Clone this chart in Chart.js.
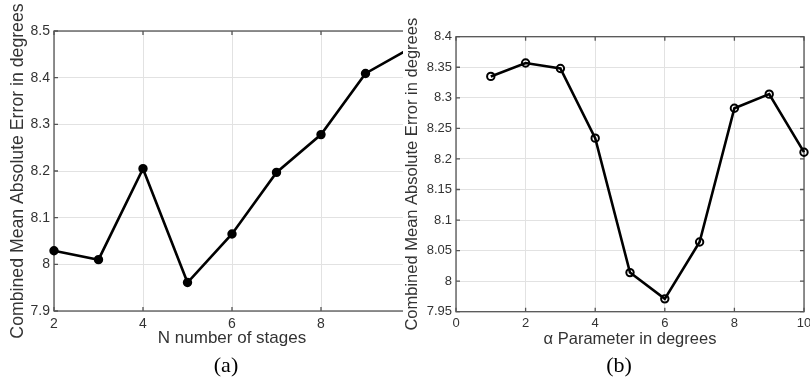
<!DOCTYPE html>
<html><head><meta charset="utf-8">
<script src="https://cdn.jsdelivr.net/npm/chart.js@4"></script>
<style>
html,body{margin:0;padding:0;background:#fff;overflow:hidden;width:810px;height:377px;}
#wa{position:absolute;left:0;top:0;width:430px;height:377px;}
#wb{position:absolute;left:403px;top:0;width:420px;height:377px;background:#fff;}
canvas{display:block;}
</style></head><body>
<div id="wa"><canvas id="ca" width="430" height="377"></canvas></div>
<div id="wb"><canvas id="cb" width="420" height="377"></canvas></div>
<script>
// ---- data (a) ----
const stagesN = [2, 3, 4, 5, 6, 7, 8, 9, 10];
const maeStages = [8.029, 8.010, 8.205, 7.961, 8.065, 8.197, 8.278, 8.409, 8.463];
const ticksAx = [2, 4, 6, 8, 10];
const ticksAy = [7.9, 8.0, 8.1, 8.2, 8.3, 8.4, 8.5];
// ---- data (b) ----
const alphaDeg = [1, 2, 3, 4, 5, 6, 7, 8, 9, 10];
const maeAlpha = [8.335, 8.357, 8.348, 8.234, 8.014, 7.971, 8.064, 8.283, 8.306, 8.211];
const ticksBx = [0, 2, 4, 6, 8, 10];
const ticksBy = [7.95, 8.0, 8.05, 8.1, 8.15, 8.2, 8.25, 8.3, 8.35, 8.4];
// ---- text ----
const titleAx = 'N number of stages';
const titleBx = '\u03B1 Parameter in degrees';
const titleY = 'Combined Mean Absolute Error in degrees';
const capA = '(a)';
const capB = '(b)';

const SANS = "'Liberation Sans', Arial, sans-serif";
const SERIF = "'Liberation Serif', 'Times New Roman', serif";
const TXT = '#333333';
const AXC = '#555555';
const GRID = '#e2e2e2';

const fmt = v => String(Math.round(v * 100) / 100);

const frame = {
  id: 'frame',
  beforeDatasetsDraw(chart) {
    const {ctx, chartArea: {left, right, top, bottom}, scales: {x, y}} = chart;
    ctx.save();
    ctx.strokeStyle = AXC;
    ctx.lineWidth = 1.3;
    ctx.strokeRect(left, top, right - left, bottom - top);
    const L = 4;
    ctx.beginPath();
    x.ticks.forEach(t => {
      const px = x.getPixelForValue(t.value);
      ctx.moveTo(px, bottom); ctx.lineTo(px, bottom - L);
      ctx.moveTo(px, top); ctx.lineTo(px, top + L);
    });
    y.ticks.forEach(t => {
      const py = y.getPixelForValue(t.value);
      ctx.moveTo(left, py); ctx.lineTo(left + L, py);
      ctx.moveTo(right, py); ctx.lineTo(right - L, py);
    });
    ctx.stroke();
    ctx.restore();
  }
};

const caption = {
  id: 'caption',
  afterDraw(chart, args, opts) {
    const {ctx, chartArea: {left, right}} = chart;
    ctx.save();
    ctx.font = '22px ' + SERIF;
    ctx.fillStyle = '#000';
    ctx.textAlign = 'center';
    ctx.textBaseline = 'middle';
    ctx.fillText(opts.text, (left + right) / 2 + opts.dx, opts.y);
    ctx.restore();
  }
};

function makeChart(id, cfg) {
  return new Chart(document.getElementById(id), {
    type: 'line',
    data: {
      datasets: [{
        data: cfg.xs.map((v, i) => ({x: v, y: cfg.ys[i]})),
        borderColor: '#000',
        borderWidth: 2.6,
        tension: 0,
        pointRadius: 3.7,
        pointBorderWidth: 2,
        pointBorderColor: '#000',
        pointBackgroundColor: cfg.pointFill,
        clip: false
      }]
    },
    options: {
      responsive: false,
      animation: false,
      devicePixelRatio: 1,
      layout: {padding: {left: 0, top: cfg.top, right: cfg.right, bottom: 22}},
      plugins: {
        legend: {display: false},
        tooltip: {enabled: false},
        title: {display: false},
        caption: {text: cfg.cap, dx: cfg.capDx, y: 366}
      },
      scales: {
        x: {
          type: 'linear', min: cfg.xmin, max: cfg.xmax,
          afterBuildTicks: s => { s.ticks = cfg.tx.map(v => ({value: v})); },
          afterFit: s => { s.height = cfg.xh; },
          grid: {color: GRID, drawTicks: false, lineWidth: 1},
          border: {display: false},
          ticks: {font: {family: SANS, size: cfg.tick}, color: TXT, padding: cfg.xpad, maxRotation: 0, autoSkip: false, callback: fmt},
          title: {display: true, text: cfg.xt, color: TXT, font: {family: SANS, size: cfg.xfs}, padding: {top: 0, bottom: 6}}
        },
        y: {
          type: 'linear', min: cfg.ymin, max: cfg.ymax,
          afterBuildTicks: s => { s.ticks = cfg.ty.map(v => ({value: v})); },
          afterFit: s => { s.width = cfg.yw; },
          grid: {color: GRID, drawTicks: false, lineWidth: 1},
          border: {display: false},
          ticks: {font: {family: SANS, size: cfg.tick}, color: TXT, padding: 4, autoSkip: false, callback: fmt},
          title: {display: true, text: titleY, color: TXT, font: {family: SANS, size: cfg.yfs}, padding: {top: cfg.ytp, bottom: 0}}
        }
      }
    },
    plugins: [frame, caption]
  });
}

makeChart('ca', {
  xs: stagesN, ys: maeStages, tx: ticksAx, ty: ticksAy,
  xmin: 2, xmax: 10, ymin: 7.9, ymax: 8.5,
  xt: titleAx, cap: capA, capDx: -6, pointFill: '#000',
  top: 31, right: 20, xh: 44, yw: 54, tick: 14, xfs: 17, yfs: 17.7, xpad: 5, ytp: 7.5
});
makeChart('cb', {
  xs: alphaDeg, ys: maeAlpha, tx: ticksBx, ty: ticksBy,
  xmin: 0, xmax: 10, ymin: 7.95, ymax: 8.4,
  xt: titleBx, cap: capB, capDx: -11, pointFill: 'rgba(255,255,255,0)',
  top: 36.7, right: 19, xh: 43.3, yw: 53, tick: 13, xfs: 16.5, yfs: 16.5, xpad: 4, ytp: 0
});
</script>
</body></html>
